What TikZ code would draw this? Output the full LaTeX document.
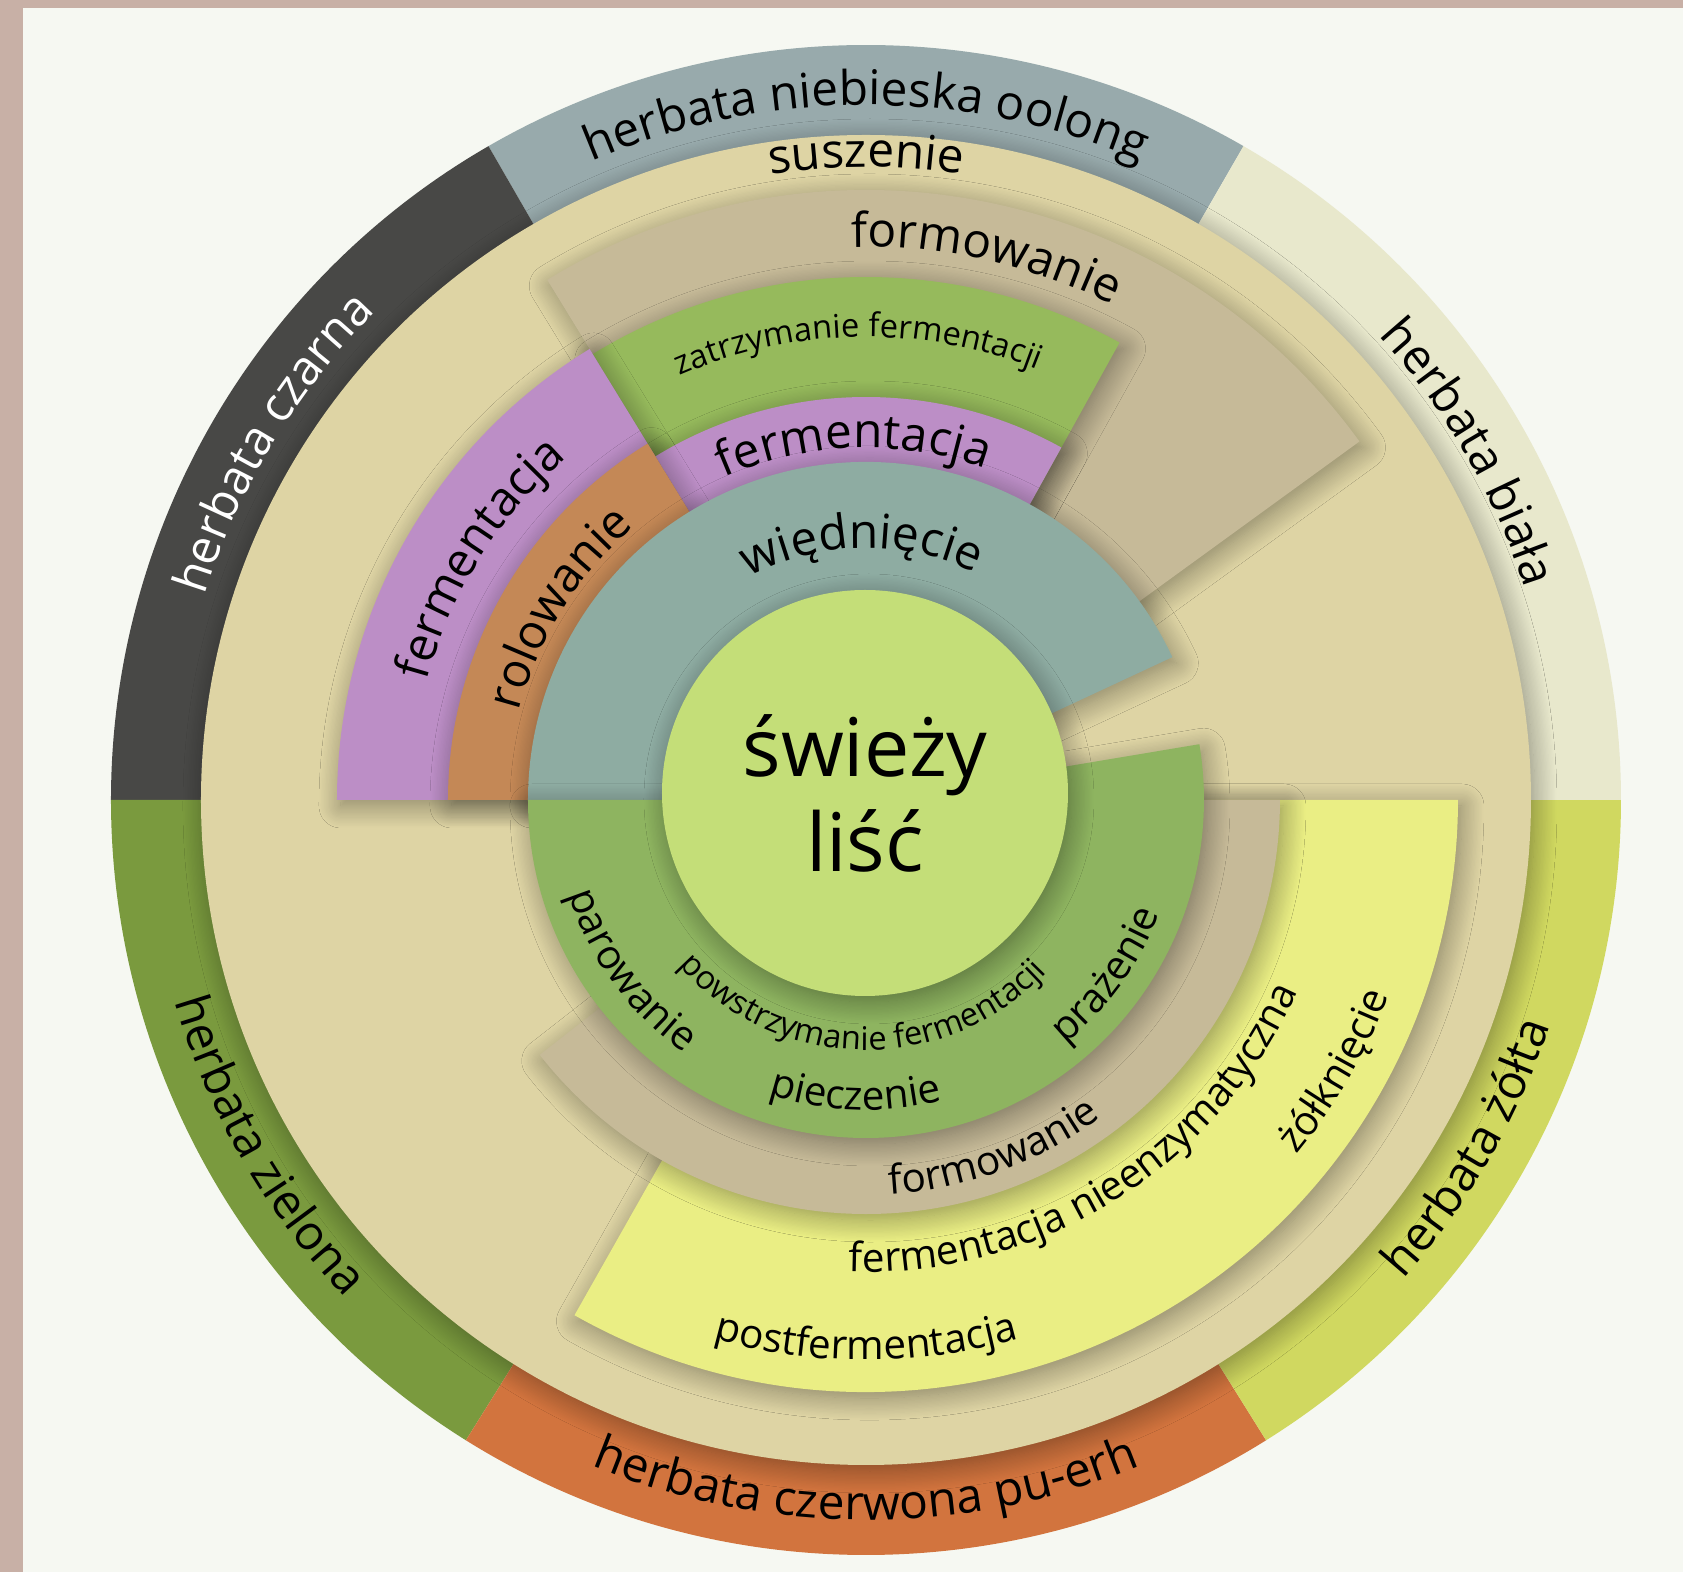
\documentclass[tikz,border=0pt]{standalone}
\usepackage{fontspec}
\setmainfont{Open Sans}
\usepackage{tikz}
\usetikzlibrary{decorations.text,shadows.blur}

\definecolor{framecol}{RGB}{200,176,166}
\definecolor{papercol}{RGB}{246,248,242}
\definecolor{oolongcol}{RGB}{152,170,172}
\definecolor{blackteacol}{RGB}{72,72,70}
\definecolor{greenteacol}{RGB}{122,154,62}
\definecolor{puerhcol}{RGB}{210,116,62}
\definecolor{yellowteacol}{RGB}{208,216,96}
\definecolor{whiteteacol}{RGB}{232,232,204}
\definecolor{dryingcol}{RGB}{222,212,164}
\definecolor{shapingcol}{RGB}{198,186,152}
\definecolor{stopcol}{RGB}{150,186,92}
\definecolor{fermentcol}{RGB}{188,142,198}
\definecolor{rollingcol}{RGB}{196,136,86}
\definecolor{witheringcol}{RGB}{142,172,162}
\definecolor{heatcol}{RGB}{142,180,96}
\definecolor{yellowingcol}{RGB}{234,238,132}
\definecolor{leafcol}{RGB}{196,222,120}

\newcommand\ringfont{\fontsize{13.6}{16}\selectfont}
\newcommand\midringfont{\fontsize{11.5}{14}\selectfont}
\newcommand\tinyringfont{\fontsize{9.3}{11}\selectfont}

\begin{document}
\begin{tikzpicture}
  [x=0.1mm,y=0.1mm,
   layer/.style={blur shadow={shadow xshift=0.4mm,shadow yshift=-0.6mm,
     shadow blur radius=2.2mm,shadow blur steps=18,shadow opacity=38}},
   ringlabel/.style={decorate,decoration={text along path,text align=center,text={#1}}}]
  % frame and paper
  \fill [framecol] (-866,-772) rectangle (817,800);
  \fill [papercol] (-843,-772) rectangle (817,792);
  \useasboundingbox (-866,-772) rectangle (817,800);
  % outer ring, one sector per tea
  \fill [oolongcol] (0,0) -- (60:755) arc [start angle=60,end angle=120,radius=755] -- cycle;
  \fill [blackteacol] (0,0) -- (120:755) arc [start angle=120,end angle=180,radius=755] -- cycle;
  \fill [greenteacol] (0,0) -- (180:755) arc [start angle=180,end angle=238,radius=755] -- cycle;
  \fill [puerhcol] (0,0) -- (238:755) arc [start angle=238,end angle=302,radius=755] -- cycle;
  \fill [yellowteacol] (0,0) -- (302:755) arc [start angle=302,end angle=360,radius=755] -- cycle;
  \fill [whiteteacol] (0,0) -- (0:755) arc [start angle=0,end angle=60,radius=755] -- cycle;
  \fill [dryingcol,layer] (0,0) circle [radius=665];
  % upper half
  \fill [shapingcol,layer] (0,0) -- (36:610) arc [start angle=36,end angle=121.5,radius=610] -- cycle;
  \fill [stopcol,layer] (0,0) -- (61:523) arc [start angle=61,end angle=121.5,radius=523] -- cycle;
  \fill [fermentcol,layer] (0,0) -- (121.5:529) arc [start angle=121.5,end angle=180,radius=529] -- cycle;
  \fill [fermentcol,layer] (0,0) -- (61:403) arc [start angle=61,end angle=121.5,radius=403] -- cycle;
  \fill [rollingcol,layer] (0,0) -- (121.5:418) arc [start angle=121.5,end angle=180,radius=418] -- cycle;
  \fill [witheringcol,layer] (0,0) -- (25:338) arc [start angle=25,end angle=180,radius=338] -- cycle;
  % lower half
  \fill [yellowingcol,layer] (0,0) -- (240.5:592) arc [start angle=240.5,end angle=360,radius=592] -- cycle;
  \fill [shapingcol,layer] (0,0) -- (218:414) arc [start angle=218,end angle=360,radius=414] -- cycle;
  \fill [heatcol,layer] (0,0) -- (180:338) arc [start angle=180,end angle=369.5,radius=338] -- cycle;
  \node (leafcircle) at (-1,7) [circle,fill=leafcol,layer,inner sep=0pt,minimum size=40.6mm,
    align=center,font=\fontsize{23}{27}\selectfont] {świeży\\liść};
  % tea names
  \path [ringlabel={|\ringfont|herbata niebieska oolong}] (130:695) arc [start angle=130,end angle=50,radius=695];
  \path [ringlabel={|\ringfont\color{white}|herbata czarna}] (189:692) arc [start angle=189,end angle=109,radius=692];
  \path [ringlabel={|\ringfont|herbata biała}] (70:692) arc [start angle=70,end angle=-10,radius=692];
  \path [ringlabel={|\ringfont|herbata zielona}] (170:720) arc [start angle=170,end angle=250,radius=720];
  \path [ringlabel={|\ringfont|herbata czerwona pu-erh}] (230:720) arc [start angle=230,end angle=310,radius=720];
  \path [ringlabel={|\ringfont|herbata żółta}] (290:720) arc [start angle=290,end angle=370,radius=720];
  % steps
  \path [ringlabel={|\ringfont|suszenie}] (130:633) arc [start angle=130,end angle=50,radius=633];
  \path [ringlabel={|\ringfont|formowanie}] (117.5:553) arc [start angle=117.5,end angle=37.5,radius=553];
  \path [ringlabel={|\tinyringfont|zatrzymanie fermentacji}] (131:463) arc [start angle=131,end angle=51,radius=463];
  \path [ringlabel={|\ringfont|fermentacja}] (132:352) arc [start angle=132,end angle=52,radius=352];
  \path [ringlabel={|\ringfont|więdnięcie}] (131:252) arc [start angle=131,end angle=51,radius=252];
  \path [ringlabel={|\ringfont|rolowanie}] (188:358) arc [start angle=188,end angle=108,radius=358];
  \path [ringlabel={|\ringfont|fermentacja}] (188:455) arc [start angle=188,end angle=108,radius=455];
  \path [ringlabel={|\midringfont|parowanie}] (176:312) arc [start angle=176,end angle=256,radius=312];
  \path [ringlabel={|\midringfont|pieczenie}] (228:310) arc [start angle=228,end angle=308,radius=310];
  \path [ringlabel={|\midringfont|prażenie}] (284:315) arc [start angle=284,end angle=364,radius=315];
  \path [ringlabel={|\tinyringfont|powstrzymanie fermentacji}] (209:250) arc [start angle=209,end angle=329,radius=250];
  \path [ringlabel={|\midringfont|formowanie}] (250:395) arc [start angle=250,end angle=330,radius=395];
  \path [ringlabel={|\midringfont|fermentacja nieenzymatyczna}] (242:472) arc [start angle=242,end angle=362,radius=472];
  \path [ringlabel={|\midringfont|postfermentacja}] (230:560) arc [start angle=230,end angle=310,radius=560];
  \path [ringlabel={|\midringfont|żółknięcie}] (290:558) arc [start angle=290,end angle=370,radius=558];
\end{tikzpicture}
\end{document}
